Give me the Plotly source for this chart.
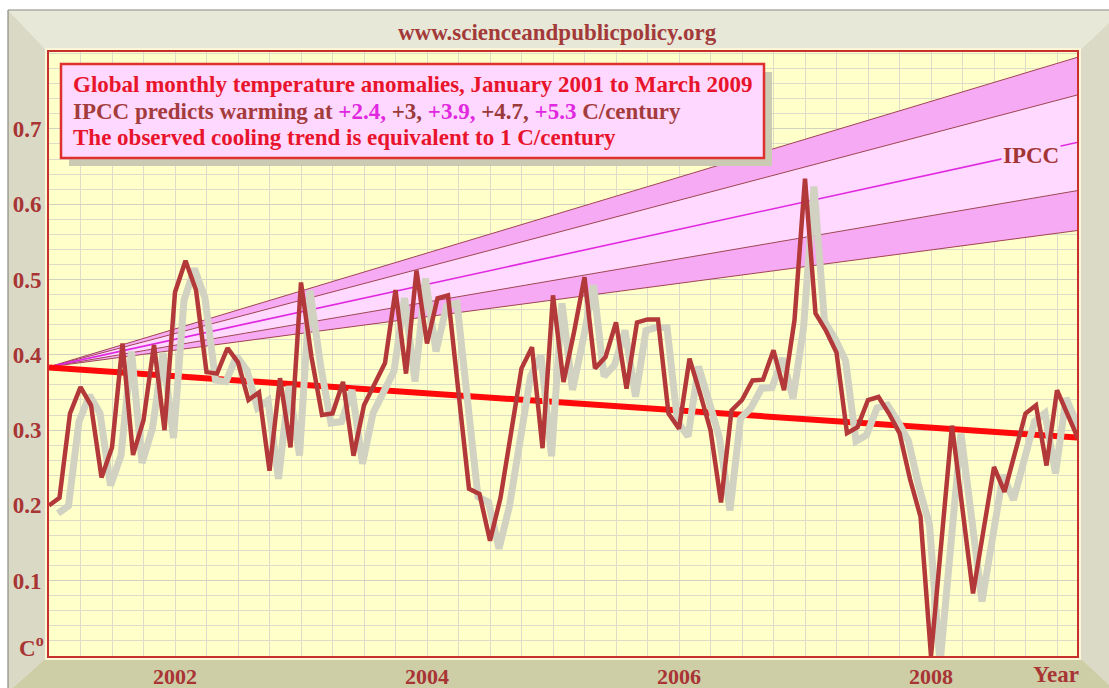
import plotly.graph_objects as go

# ---------------- data ----------------
start_year = 2001.0
months_per_year = 12
anomaly = [
    0.200, 0.210, 0.322, 0.357, 0.333, 0.237, 0.277, 0.415, 0.267, 0.313, 0.413, 0.300,   # 2001
    0.483, 0.525, 0.486, 0.377, 0.375, 0.409, 0.390, 0.340, 0.350, 0.246, 0.369, 0.277,   # 2002
    0.496, 0.397, 0.320, 0.322, 0.364, 0.266, 0.333, 0.360, 0.389, 0.486, 0.375, 0.512,   # 2003
    0.415, 0.475, 0.479, 0.350, 0.222, 0.215, 0.153, 0.210, 0.300, 0.382, 0.410, 0.276,   # 2004
    0.479, 0.364, 0.430, 0.503, 0.382, 0.397, 0.443, 0.355, 0.443, 0.447, 0.447, 0.322,   # 2005
    0.302, 0.395, 0.349, 0.300, 0.204, 0.326, 0.340, 0.366, 0.367, 0.406, 0.353, 0.446,   # 2006
    0.634, 0.455, 0.432, 0.403, 0.296, 0.304, 0.340, 0.344, 0.322, 0.296, 0.235, 0.185,   # 2007
    0.000, 0.150, 0.306, 0.195, 0.083, 0.167, 0.251, 0.218, 0.270, 0.322, 0.333, 0.253,   # 2008
    0.353, 0.322, 0.289,                                                                  # 2009
]
months = [start_year + i / months_per_year for i in range(len(anomaly))]

trend_x = [2001.0, 2009.16]
trend_y = [0.383, 0.290]

fan_x = [2001.0, 2009.16]
ipcc_rates = ["+2.4", "+3", "+3.9", "+4.7", "+5.3"]
ipcc_lines = {
    "+2.4": [0.384, 0.565],
    "+3":   [0.384, 0.618],
    "+3.9": [0.384, 0.682],
    "+4.7": [0.384, 0.745],
    "+5.3": [0.384, 0.795],
}

x_tick_vals = [2002, 2004, 2006, 2008]
x_tick_text = ["2002", "2004", "2006", "2008"]
y_tick_vals = [0.1, 0.2, 0.3, 0.4, 0.5, 0.6, 0.7]
y_tick_text = ["0.1", "0.2", "0.3", "0.4", "0.5", "0.6", "0.7"]

site_text = "www.scienceandpublicpolicy.org"
box_line1 = "Global monthly temperature anomalies, January 2001 to March 2009"
box_line3 = "The observed cooling trend is equivalent to 1 C/century"

# ---------------- styling ----------------
W, H = 1109, 688
L, R, T, B = 49, 1077, 52, 656
FONT = "Liberation Serif"
DARKRED = "#a83434"
RED = "#e8142c"
MAG = "#e028e0"
BAND_DARK = "#f6aaf4"
BAND_LIGHT = "#ffd9ff"
BAND_EDGE = "#a04454"

x_range = [2001.0, 2001.0 + (R - L) / 126.0]
y_range = [0.0, (B - T) / 753.0]
sx = (x_range[1] - x_range[0]) / (R - L)   # years per pixel
sy = (y_range[1] - y_range[0]) / (B - T)   # units per pixel
shadow_dx, shadow_dy = 9, 8                # pixel offset of the grey shadow


def PX(px):
    return (px - L) / (R - L)


def PY(py):
    return (B - py) / (B - T)


def path(points):
    return "M " + " L ".join(f"{PX(x):.5f},{PY(y):.5f}" for x, y in points) + " Z"


fig = go.Figure()

# IPCC fan (base subplot)
fig.add_trace(go.Scatter(x=fan_x, y=ipcc_lines["+2.4"], mode="lines",
                         line=dict(color=BAND_EDGE, width=1), hoverinfo="skip"))
fig.add_trace(go.Scatter(x=fan_x, y=ipcc_lines["+3"], mode="lines", fill="tonexty",
                         fillcolor=BAND_DARK, line=dict(color=BAND_EDGE, width=1), hoverinfo="skip"))
fig.add_trace(go.Scatter(x=fan_x, y=ipcc_lines["+4.7"], mode="lines", fill="tonexty",
                         fillcolor=BAND_LIGHT, line=dict(color=BAND_EDGE, width=1), hoverinfo="skip"))
fig.add_trace(go.Scatter(x=fan_x, y=ipcc_lines["+5.3"], mode="lines", fill="tonexty",
                         fillcolor=BAND_DARK, line=dict(color=BAND_EDGE, width=1), hoverinfo="skip"))
fig.add_trace(go.Scatter(x=fan_x, y=ipcc_lines["+3.9"], mode="lines",
                         line=dict(color=MAG, width=1.6), hoverinfo="skip"))

# cooling trend
fig.add_trace(go.Scatter(x=trend_x, y=trend_y, mode="lines",
                         line=dict(color="#ff0a0a", width=6), hoverinfo="skip"))

# grey shadow of the data (shifted axes)
fig.add_trace(go.Scatter(x=months, y=anomaly, mode="lines", xaxis="x2", yaxis="y2",
                         line=dict(color="#d2d2c2", width=7), hoverinfo="skip"))

# data line
fig.add_trace(go.Scatter(x=months, y=anomaly, mode="lines", xaxis="x3", yaxis="y3",
                         line=dict(color="#b3383a", width=4.5), hoverinfo="skip"))

grid_c = "#dcdcc8"
fig.update_layout(
    width=W, height=H,
    margin=dict(l=L, r=W - R, t=T, b=H - B, autoexpand=False),
    paper_bgcolor="white",
    plot_bgcolor="#ffffc9",
    showlegend=False,
    xaxis=dict(range=x_range, tickmode="array", tickvals=x_tick_vals, ticktext=x_tick_text,
               showgrid=True, gridcolor=grid_c, gridwidth=1, zeroline=False, automargin=False,
               ticks="", ticklabelstandoff=0,
               tickfont=dict(family=FONT, size=22, color=DARKRED, weight="bold"),
               minor=dict(tickmode="linear", tick0=2001, dtick=0.25, showgrid=True,
                          gridcolor=grid_c, gridwidth=1, ticks=""),
               showline=True, linecolor="#c8302e", linewidth=2, mirror=True),
    yaxis=dict(range=y_range, tickmode="array", tickvals=y_tick_vals, ticktext=y_tick_text,
               showgrid=True, gridcolor="#d2d2c0", gridwidth=1, zeroline=False, automargin=False,
               ticks="", ticklabelstandoff=1,
               tickfont=dict(family=FONT, size=23, color=DARKRED, weight="bold"),
               minor=dict(tickmode="linear", tick0=0, dtick=0.02, showgrid=True,
                          gridcolor=grid_c, gridwidth=1, ticks=""),
               showline=True, linecolor="#c8302e", linewidth=2, mirror=True),
    xaxis2=dict(overlaying="x", visible=False, automargin=False,
                range=[x_range[0] - shadow_dx * sx, x_range[1] - shadow_dx * sx]),
    yaxis2=dict(overlaying="y", visible=False, automargin=False,
                range=[y_range[0] + shadow_dy * sy, y_range[1] + shadow_dy * sy]),
    xaxis3=dict(overlaying="x", visible=False, range=x_range, automargin=False),
    yaxis3=dict(overlaying="y", visible=False, range=y_range, automargin=False),
)

shapes = []
# 3D frame panels
shapes.append(dict(type="path", xref="paper", yref="paper", layer="below",
                   path=path([(8, 10), (1112, 10), (1112, 20), (R + 2, T - 1), (L - 2, T - 1)]),
                   fillcolor="#e8e8d8", line=dict(width=0)))
shapes.append(dict(type="path", xref="paper", yref="paper", layer="below",
                   path=path([(8, 10), (L - 2, T - 1), (L - 2, B + 1), (8, 692)]),
                   fillcolor="#d9d9c5", line=dict(width=0)))
shapes.append(dict(type="path", xref="paper", yref="paper", layer="below",
                   path=path([(R + 2, T - 1), (1112, 20), (1112, 690), (R + 2, B + 1)]),
                   fillcolor="#dadac6", line=dict(width=0)))
shapes.append(dict(type="path", xref="paper", yref="paper", layer="below",
                   path=path([(8, 692), (L - 2, B + 1), (R + 2, B + 1), (1112, 688), (1112, 692)]),
                   fillcolor="#cdcda6", line=dict(width=0)))
# outer grey edge
shapes.append(dict(type="line", xref="paper", yref="paper", layer="above",
                   x0=PX(8), y0=PY(10), x1=PX(1112), y1=PY(10), line=dict(color="#8a8a80", width=1.2)))
shapes.append(dict(type="line", xref="paper", yref="paper", layer="above",
                   x0=PX(8), y0=PY(10), x1=PX(8), y1=PY(692), line=dict(color="#8a8a80", width=1.2)))
# light rim around plot
shapes.append(dict(type="rect", xref="paper", yref="paper", layer="below",
                   x0=PX(L - 3), y0=PY(B + 3), x1=PX(R + 3), y1=PY(T - 3),
                   fillcolor="rgba(0,0,0,0)", line=dict(color="#fbf6d6", width=2)))
# legend box shadow and box
shapes.append(dict(type="rect", xref="paper", yref="paper", layer="above",
                   x0=PX(69), y0=PY(166), x1=PX(772), y1=PY(72),
                   fillcolor="#cbcbb4", line=dict(width=0)))
shapes.append(dict(type="rect", xref="paper", yref="paper", layer="above",
                   x0=PX(61), y0=PY(158), x1=PX(764), y1=PY(64),
                   fillcolor="#ffd8ff", line=dict(color="#e0302e", width=2.5)))
fig.update_layout(shapes=shapes)

box_line2 = ("IPCC predicts warming at "
             + " ".join(
                 f"<span style='color:{MAG if k % 2 == 0 else '#9a3a3a'}'>{r}{',' if k < len(ipcc_rates) - 1 else ''}</span>"
                 for k, r in enumerate(ipcc_rates))
             + " C/century")

ann = []
ann.append(dict(xref="paper", yref="paper", x=PX(557), y=PY(32), text=site_text, showarrow=False,
                xanchor="center", yanchor="middle",
                font=dict(family=FONT, size=23, color="#a33a3a", weight="bold")))
for txt, yy, col in [(box_line1, 84, RED), (box_line2, 111, "#a33c3c"), (box_line3, 138, RED)]:
    ann.append(dict(xref="paper", yref="paper", x=PX(71), y=PY(yy), text=txt, showarrow=False,
                    xanchor="left", yanchor="middle",
                    font=dict(family=FONT, size=23, color=col, weight="bold")))
ann.append(dict(xref="x", yref="y", x=2008.79, y=0.665, text="IPCC", showarrow=False,
                xanchor="center", yanchor="middle", bgcolor=BAND_LIGHT, borderpad=1,
                font=dict(family=FONT, size=23, color="#a33434", weight="bold")))
ann.append(dict(xref="paper", yref="paper", x=PX(46), y=PY(646), text="C<sup>o</sup>", showarrow=False,
                xanchor="right", yanchor="middle",
                font=dict(family=FONT, size=23, color=DARKRED, weight="bold")))
ann.append(dict(xref="paper", yref="paper", x=PX(1056), y=PY(674), text="Year", showarrow=False,
                xanchor="center", yanchor="middle",
                font=dict(family=FONT, size=23, color=DARKRED, weight="bold")))
fig.update_layout(annotations=ann)

fig.write_html("out.html", config={"displayModeBar": False},
               post_script="document.body.style.margin='0px';")
